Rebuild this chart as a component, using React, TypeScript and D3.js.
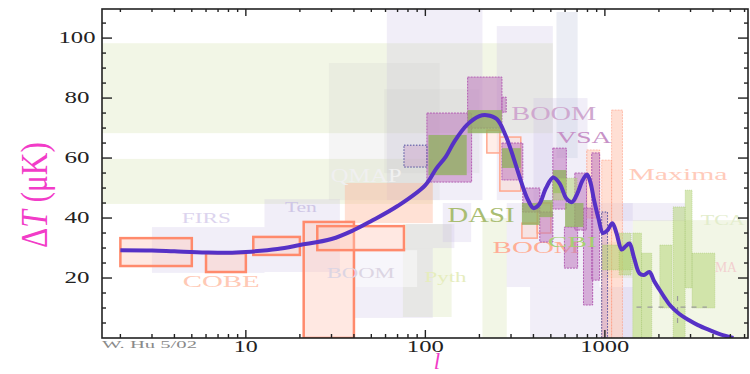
import React, { useRef, useEffect } from 'react';
import * as d3 from 'd3';

type Box = [number, number, number, number]; // lMin, lMax, dT low, dT high

// theory curve (multipole l, dT in uK)
const spectrumL = [2, 3, 4, 6, 8, 10, 15, 20, 30, 40, 50, 70, 100, 115, 130, 145, 170, 200, 220, 250, 280, 310, 340, 370, 400, 430, 470, 515, 560, 610, 655, 700, 750, 795, 830, 870, 920, 975, 1030, 1100, 1160, 1240, 1300, 1370, 1450, 1560, 1650, 1770, 1880, 2020, 2150, 2300, 2600, 2930, 3300, 3800, 4400, 5200];
const spectrumT = [29.3, 29.2, 28.9, 28.5, 28.4, 28.7, 29.7, 31, 33, 36, 39, 44, 51, 56.5, 60.5, 65.5, 71, 74, 74.3, 73, 67.5, 60, 52.5, 46.5, 43.3, 44.5, 50, 53.5, 51.5, 46.5, 45.3, 48, 52.5, 54.5, 52, 46, 40, 35, 35.8, 38.3, 35, 29.5, 30.5, 31.5, 27, 21.5, 21, 22, 19, 16, 13.5, 11, 8, 6, 4.3, 2.7, 1.2, 0];

const paleGreenBoxes: Box[] = [
  [1.58, 513, 68.3, 98.3],
  [1.58, 110, 44.7, 59.7],
  [208, 284, 0, 40],
  [1430, 6270, 0, 39.3],
  [75, 140, 7, 38],
  [960, 1430, 20, 32],
];
const lavenderBoxes: Box[] = [
  [3, 12.7, 21.7, 37],
  [12.7, 33.4, 22, 46.3],
  [61, 208, 46, 109.7],
  [250, 513, 46, 104],
  [400, 800, 44, 80],
  [40, 110, 6.7, 30],
  [78, 145, 30, 38],
  [125, 180, 32, 45],
  [284, 935, 17, 45],
  [383, 1430, 0, 17],
  [935, 2800, 39, 45],
  [1250, 1430, 0, 45],
];
const blueGrayBoxes: Box[] = [
  [537, 705, 60, 108.7],
];
const grayBoxes: Box[] = [
  [29, 120, 46, 91.7],
  [59, 200, 55, 83],
];
const whiteBoxes: Box[] = [
  [41, 90, 17, 29.3],
];
const salmonBoxes: Box[] = [
  [35.6, 110, 38.3, 51.7],
];
const cobeBoxes: Box[] = [
  [2, 5, 24, 33.3],
  [6, 10, 22, 28.3],
  [11, 20, 27.7, 33.7],
  [21, 40, 0, 38.7],
  [25, 76, 29.3, 37.3],
];
const boom98Boxes: Box[] = [
  [220, 260, 61.7, 69.3],
  [260, 340, 49, 67],
  [345, 420, 33.3, 38.3],
  [420, 500, 35, 45],
];
const maximaBoxes: Box[] = [
  [792, 935, 40, 62.7],
  [960, 1090, 0, 59.3],
  [1090, 1253, 0, 76],
];
const boomBoxes: Box[] = [
  [102, 181, 52, 75],
  [172, 267, 70, 87],
  [267, 282, 75.3, 80.3],
  [267, 349, 52.7, 65],
  [349, 434, 42, 50],
  [434, 513, 32, 42],
  [513, 610, 43, 63.3],
  [595, 705, 23.3, 37],
  [680, 790, 36, 55],
  [760, 855, 11, 43.3],
  [845, 935, 19.3, 61.7],
];
const boomDotBoxes: Box[] = [
  [76, 102, 57, 64.3],
  [960, 1035, 0, 42],
];
const dasiBoxes: Box[] = [
  [104, 170, 54.3, 67.7],
  [172, 267, 68.3, 76],
  [267, 340, 56.7, 63.3],
  [345, 434, 37.7, 45],
  [434, 513, 40.3, 46],
  [513, 610, 48.3, 56],
  [600, 760, 37, 45],
];
const cbiBoxes: Box[] = [
  [513, 700, 46, 53.3],
  [970, 1430, 22.7, 31],
  [1200, 1400, 21, 35],
  [1430, 1600, 0, 35],
  [1600, 1825, 0, 28.3],
  [2023, 2366, 10, 31],
  [2400, 2800, 0, 43.7],
  [2800, 3060, 16.7, 49.3],
  [3060, 4100, 10, 28.3],
];
const dashedMarks: Box[] = [
  [1500, 3700, 10.3, 10.3],
  [2540, 2540, 5, 15.3],
];

const labelTexts = ['FIRS', 'COBE', 'Ten', 'QMAP', 'BOOM', 'Pyth', 'DASI', 'BOOM', 'CBI', 'BOOM', 'VSA', 'Maxima', 'TCA', 'MA'];
const labelL = [4.4, 4.45, 16.5, 29.7, 28.2, 99, 133, 237, 481, 301, 537, 1353, 3420, 4100];
const labelT = [38.3, 17, 42, 52, 20, 18.7, 38.7, 28.3, 30.3, 72.7, 65, 52.7, 37.7, 22];
const labelColors = ['#dcd4ee', '#ffc9b5', '#cfc6e6', '#f0f0f0', '#dcd5e3', '#e6edbd', '#a9bd72', '#ffae96', '#a5cf72', '#cfa8cf', '#c791c7', '#ffcbbb', '#e3edcc', '#f3cfcf'];
const labelSizes = [15, 16, 14, 18, 15, 15, 20, 16, 15, 18, 17, 17, 15, 14];
const labelWidths = [49, 77, 32, 71, 68, 42, 67, 87, 49, 85, 55, 99, 44, 22];

const xTickLabels = [10, 100, 1000];
const xTickWidths = [24, 37, 49];
const yTickLabels = [20, 40, 60, 80, 100];

const App: React.FC = () => {
  const svgRef = useRef<SVGSVGElement | null>(null);
  const width = 750;
  const height = 374;
  const plot = { left: 102, right: 748, top: 9, bottom: 338 };

  useEffect(() => {
    if (!svgRef.current) return;
    const svg = d3.select(svgRef.current);
    svg.selectAll('*').remove();

    const x = d3.scaleLog().domain([1.58, 6270]).range([plot.left, plot.right]);
    const y = d3.scaleLinear().domain([0, 109.7]).range([plot.bottom, plot.top]);

    svg.append('rect').attr('width', width).attr('height', height).attr('fill', 'white');

    svg.append('defs').append('clipPath').attr('id', 'plot-clip')
      .append('rect')
      .attr('x', plot.left).attr('y', plot.top)
      .attr('width', plot.right - plot.left).attr('height', plot.bottom - plot.top);

    const area = svg.append('g').attr('clip-path', 'url(#plot-clip)');

    const drawBoxes = (boxes: Box[], fill: string, stroke = 'none', sw = 0, dash: string | null = null) => {
      area.append('g').selectAll('rect')
        .data(boxes)
        .join('rect')
        .attr('x', d => x(d[0]))
        .attr('y', d => y(d[3]))
        .attr('width', d => x(d[1]) - x(d[0]))
        .attr('height', d => y(d[2]) - y(d[3]))
        .attr('fill', fill)
        .attr('stroke', stroke)
        .attr('stroke-width', sw)
        .attr('stroke-dasharray', dash);
    };

    const drawLabels = (idx: number[]) => {
      area.append('g').selectAll('text')
        .data(idx)
        .join('text')
        .attr('x', i => x(labelL[i]))
        .attr('y', i => y(labelT[i]))
        .attr('font-family', 'Liberation Serif, serif')
        .attr('font-size', i => labelSizes[i])
        .attr('textLength', i => labelWidths[i])
        .attr('lengthAdjust', 'spacingAndGlyphs')
        .attr('fill', i => labelColors[i])
        .text(i => labelTexts[i]);
    };

    // faint background experiments
    drawBoxes(paleGreenBoxes, 'rgba(214,228,176,0.32)');
    drawBoxes(lavenderBoxes, 'rgba(200,190,228,0.26)');
    drawBoxes(blueGrayBoxes, 'rgba(205,210,228,0.4)');
    drawBoxes(grayBoxes, 'rgba(200,200,200,0.18)');
    drawBoxes(whiteBoxes, 'rgba(255,255,255,0.45)');
    drawBoxes(salmonBoxes, 'rgba(255,180,150,0.4)');
    drawBoxes(maximaBoxes, 'rgba(255,185,160,0.45)', 'rgba(255,150,120,0.55)', 1, '2,1');
    drawBoxes(boom98Boxes, 'rgba(255,205,190,0.35)', '#ffa88e', 1.5);
    drawBoxes(cobeBoxes, 'rgba(255,200,185,0.42)', '#ff8a6c', 2.5);

    drawLabels([0, 1, 2, 3, 4, 5, 7, 9, 10, 11, 12, 13]);

    // recent experiments
    drawBoxes(boomBoxes, 'rgba(190,120,190,0.55)', '#b35db3', 1, '2,1');
    drawBoxes(boomDotBoxes, 'rgba(200,160,200,0.45)', '#4d4d9e', 1, '1.5,1.5');
    drawLabels([6, 8]);
    drawBoxes(dasiBoxes, 'rgba(145,175,95,0.78)');
    drawBoxes(cbiBoxes, 'rgba(175,210,110,0.5)', 'rgba(150,190,90,0.5)', 0.8, '1,1');

    area.append('g').selectAll('line')
      .data(dashedMarks)
      .join('line')
      .attr('x1', d => x(d[0])).attr('x2', d => x(d[1]))
      .attr('y1', d => y(d[2])).attr('y2', d => y(d[3]))
      .attr('stroke', '#9a9a9a').attr('stroke-width', 1.2).attr('stroke-dasharray', '5,6');

    // theory curve
    const line = d3.line<number>()
      .x(d => x(d))
      .y((_, i) => y(spectrumT[i]))
      .curve(d3.curveCatmullRom);
    area.append('path')
      .datum(spectrumL)
      .attr('d', line)
      .attr('fill', 'none')
      .attr('stroke', '#5631c6')
      .attr('stroke-width', 4)
      .attr('stroke-linejoin', 'round');

    // frame
    svg.append('rect')
      .attr('x', plot.left).attr('y', plot.top)
      .attr('width', plot.right - plot.left).attr('height', plot.bottom - plot.top)
      .attr('fill', 'none').attr('stroke', '#222').attr('stroke-width', 1.6);

    // log ticks on bottom and top
    const logTicks: number[] = [];
    [1, 10, 100, 1000].forEach(dec => {
      for (let k = 1; k <= 9; k++) {
        const v = k * dec;
        if (v >= 1.58 && v <= 6270) logTicks.push(v);
      }
    });
    const isMajorL = (v: number) => [10, 100, 1000].includes(v);
    const axes = svg.append('g').attr('stroke', '#222').attr('stroke-width', 1.4);
    axes.selectAll('line.xb').data(logTicks).join('line').attr('class', 'xb')
      .attr('x1', d => x(d)).attr('x2', d => x(d))
      .attr('y1', plot.bottom).attr('y2', d => plot.bottom - (isMajorL(d) ? 8 : 4));
    axes.selectAll('line.xt').data(logTicks).join('line').attr('class', 'xt')
      .attr('x1', d => x(d)).attr('x2', d => x(d))
      .attr('y1', plot.top).attr('y2', d => plot.top + (isMajorL(d) ? 7 : 3));

    const linTicks = d3.range(5, 110, 5);
    axes.selectAll('line.yl').data(linTicks).join('line').attr('class', 'yl')
      .attr('y1', d => y(d)).attr('y2', d => y(d))
      .attr('x1', plot.left).attr('x2', d => plot.left + (d % 20 === 0 ? 10 : 4));
    axes.selectAll('line.yr').data(linTicks).join('line').attr('class', 'yr')
      .attr('y1', d => y(d)).attr('y2', d => y(d))
      .attr('x1', plot.right).attr('x2', d => plot.right - (d % 20 === 0 ? 10 : 4));

    // tick labels
    svg.append('g').selectAll('text')
      .data(xTickLabels)
      .join('text')
      .attr('x', d => x(d))
      .attr('y', 352)
      .attr('text-anchor', 'middle')
      .attr('font-family', 'Liberation Serif, serif')
      .attr('font-size', 16)
      .attr('textLength', (_, i) => xTickWidths[i])
      .attr('lengthAdjust', 'spacingAndGlyphs')
      .attr('fill', '#222')
      .text(d => d);

    svg.append('g').selectAll('text')
      .data(yTickLabels)
      .join('text')
      .attr('x', 77)
      .attr('y', d => y(d) + 5)
      .attr('text-anchor', 'middle')
      .attr('font-family', 'Liberation Serif, serif')
      .attr('font-size', 16)
      .attr('textLength', d => (d >= 100 ? 37 : 25))
      .attr('lengthAdjust', 'spacingAndGlyphs')
      .attr('fill', '#222')
      .text(d => d);

    svg.append('text')
      .attr('x', plot.left).attr('y', 348)
      .attr('font-family', 'Liberation Serif, serif')
      .attr('font-size', 10.5)
      .attr('textLength', 95)
      .attr('lengthAdjust', 'spacingAndGlyphs')
      .attr('fill', '#8a8a8a')
      .text('W. Hu 5/02');

    // axis titles
    svg.append('text')
      .attr('x', 437).attr('y', 369)
      .attr('text-anchor', 'middle')
      .attr('font-family', 'Liberation Serif, serif')
      .attr('font-style', 'italic')
      .attr('font-size', 23)
      .attr('fill', '#f23cc8')
      .text('l');

    const yt = svg.append('text')
      .attr('transform', 'translate(34,195) scale(1.45,1) rotate(-90)')
      .attr('text-anchor', 'middle')
      .attr('dominant-baseline', 'central')
      .attr('font-family', 'Liberation Serif, serif')
      .attr('font-size', 26)
      .attr('textLength', 106)
      .attr('lengthAdjust', 'spacingAndGlyphs')
      .attr('fill', '#f23cc8');
    yt.append('tspan').text('\u0394');
    yt.append('tspan').attr('font-style', 'italic').text('T');
    yt.append('tspan').text(' (\u03bcK)');
  }, []);

  return (
    <svg
      ref={svgRef}
      width={width}
      height={height}
      style={{ position: 'absolute', left: 0, top: 0 }}
    ></svg>
  );
};

export default App;
